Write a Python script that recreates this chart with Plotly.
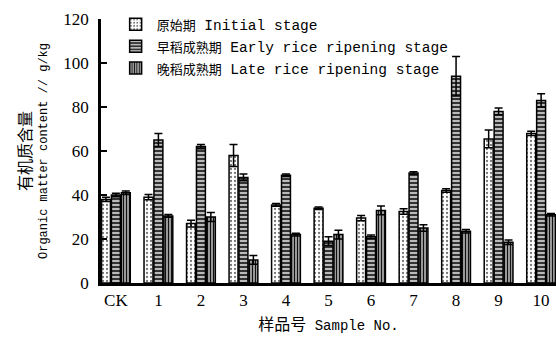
import plotly.graph_objects as go

categories = ["CK", "1", "2", "3", "4", "5", "6", "7", "8", "9", "10"]
initial = [38, 39, 27, 58, 35.5, 34, 29.5, 32.5, 42, 65.5, 68]
initial_err = [1, 1.2, 1.5, 5, 0.6, 0.6, 1.2, 1.2, 0.8, 4, 1]
early = [40, 65, 62, 48, 49, 19, 21, 50, 94, 78, 83]
early_err = [0.8, 3, 1, 1.5, 0.6, 2, 0.8, 0.6, 9, 1.5, 3]
late = [41, 30.5, 30, 10.5, 22, 22, 33, 25, 23.5, 18.5, 31]
late_err = [0.8, 0.6, 2, 2, 0.6, 2, 2, 1.5, 0.8, 1, 0.6]

names_cn = ["原始期", "早稻成熟期", "晚稻成熟期"]
names_en = ["Initial stage", "Early rice ripening stage", "Late rice ripening stage"]

SERIF = "Liberation Serif, Noto Sans CJK SC, serif"
MONO = "Liberation Mono, Noto Sans CJK SC, monospace"

def label(cn, en, cn_size):
    return f'<span style="font-size:{cn_size}px">{cn}</span> {en}'

fig = go.Figure()
specs = [
    (initial, initial_err, dict(shape=".", bgcolor="white", fgcolor="#777", size=4, solidity=0.25)),
    (early, early_err, dict(shape="-", bgcolor="#333333", fgcolor="#dddddd", size=4, solidity=0.4)),
    (late, late_err, dict(shape="|", bgcolor="#999999", fgcolor="#111111", size=3, solidity=0.35)),
]
for (vals, errs, pat), cn, en in zip(specs, names_cn, names_en):
    fig.add_trace(go.Bar(
        x=categories, y=vals, name=label(cn, en, 13),
        marker=dict(color=pat["bgcolor"], pattern=dict(shape=pat["shape"], bgcolor=pat["bgcolor"],
                    fgcolor=pat["fgcolor"], size=pat["size"], solidity=pat["solidity"], fillmode="replace"),
                    line=dict(color="black", width=1.5)),
        error_y=dict(type="data", array=errs, visible=True, color="black", thickness=1.5, width=4),
    ))

fig.update_layout(
    width=556, height=340,
    margin=dict(l=101, r=0, t=19, b=57),
    paper_bgcolor="white", plot_bgcolor="white",
    barmode="group", bargap=0.3, bargroupgap=0.1,
    font=dict(family=SERIF, size=16, color="black"),
    showlegend=True,
    legend=dict(x=0.03, y=1.04, xanchor="left", yanchor="top", bgcolor="rgba(0,0,0,0)",
                font=dict(size=14.5, family=MONO), tracegroupgap=0, itemwidth=32),
    xaxis=dict(range=[-0.35, 10.35], showline=True, linecolor="black", linewidth=2.5,
               ticks="", showgrid=False, tickfont=dict(size=17, family=SERIF), automargin=False,
               title=dict(text=label("样品号", "Sample No.", 16), font=dict(size=14, family=MONO), standoff=12)),
    yaxis=dict(range=[0, 120], dtick=20, showline=True, linecolor="black", linewidth=2.5,
               ticks="inside", ticklen=6, tickwidth=2, tickcolor="black", showgrid=False,
               zeroline=False, tickfont=dict(size=17, family=SERIF), automargin=False,
               ticklabelstandoff=6,
               title=dict(text='<span style="font-size:16px">有机质含量</span><br>Organic matter content // g/kg',
                          font=dict(size=12, family=MONO), standoff=14)),
)

fig.write_html("out.html", post_script="document.body.style.margin='0';",
               config={"displayModeBar": False})
